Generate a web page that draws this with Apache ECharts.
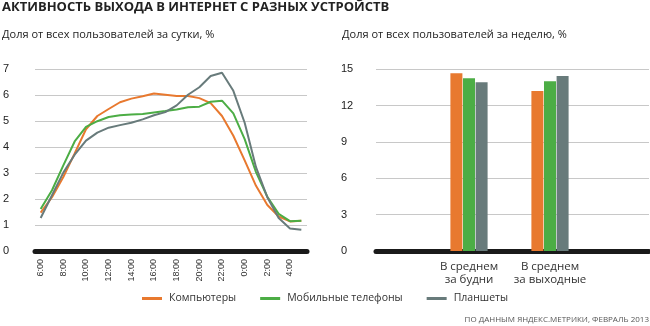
<!DOCTYPE html>
<html><head><meta charset="utf-8">
<script src="https://cdn.jsdelivr.net/npm/echarts@6/dist/echarts.min.js"></script>
<style>html,body{margin:0;padding:0;background:#fff}#c{width:650px;height:326px}</style>
</head><body><div id="c"></div>
<script>
const hours = ['6:00','7:00','8:00','9:00','10:00','11:00','12:00','13:00','14:00','15:00','16:00','17:00','18:00','19:00','20:00','21:00','22:00','23:00','0:00','1:00','2:00','3:00','4:00','5:00'];
const computers = [1.48,2.07,2.85,3.76,4.69,5.2,5.47,5.73,5.87,5.96,6.07,6.02,5.97,5.97,5.89,5.70,5.20,4.44,3.49,2.51,1.77,1.33,1.14,1.17];
const mobile    = [1.62,2.34,3.30,4.22,4.78,5.0,5.16,5.23,5.26,5.28,5.34,5.39,5.45,5.54,5.56,5.75,5.79,5.30,4.31,3.04,2.09,1.43,1.15,1.17];
const tablets   = [1.27,2.15,3.02,3.71,4.25,4.56,4.75,4.85,4.94,5.07,5.23,5.35,5.61,6.02,6.31,6.74,6.87,6.17,4.94,3.23,2.07,1.27,0.87,0.82];
const weekCategories = ['В среднем\nза будни','В среднем\nза выходные'];
const weekComputers = [14.67,13.21];
const weekMobile    = [14.26,14.01];
const weekTablets   = [13.93,14.45];
const seriesNames = ['Компьютеры','Мобильные телефоны','Планшеты'];
const dayMax = 7, dayStep = 1;
const weekMax = 15, weekStep = 3;

const colors = ['#e8792f','#4cad45','#687b7b'];
const numFont = 'Liberation Sans';
const txtFont = 'Open Sans';
const gTop = 69.3, gH = 181.7;

const chart = echarts.init(document.getElementById('c'), null, {renderer:'canvas'});
chart.setOption({
  animation:false,
  color: colors,
  title:[
    {text:'АКТИВНОСТЬ ВЫХОДА В ИНТЕРНЕТ С РАЗНЫХ УСТРОЙСТВ', left:2, top:1, padding:0, textStyle:{fontFamily:txtFont,fontSize:13,fontWeight:'bold',color:'#222'}},
    {text:'Доля от всех пользователей за сутки, %', left:2, top:29, padding:0, textStyle:{fontFamily:txtFont,fontSize:11,fontWeight:'normal',color:'#222'}},
    {text:'Доля от всех пользователей за неделю, %', left:342, top:29, padding:0, textStyle:{fontFamily:txtFont,fontSize:11,fontWeight:'normal',color:'#222'}},
    {text:'ПО ДАННЫМ ЯНДЕКС.МЕТРИКИ, ФЕВРАЛЬ 2013', right:1, top:316, padding:0, textStyle:{fontFamily:txtFont,fontSize:8,fontWeight:'normal',color:'#555'}}
  ],
  legend:{
    left:142, top:293, padding:0, itemWidth:20, itemHeight:3, itemGap:24, icon:'rect',
    data:seriesNames,
    textStyle:{fontFamily:txtFont,fontSize:10.5,color:'#333',padding:[0,0,0,2]}
  },
  grid:[
    {left:34, width:273, top:gTop, height:gH},
    {left:376, width:273, top:gTop, height:gH},
    {left:428.5, width:162, top:gTop, height:gH}
  ],
  xAxis:[
    {type:'category', gridIndex:0, data:hours, boundaryGap:true,
     axisLine:{lineStyle:{color:'#1a1a1a',width:5}}, axisTick:{show:false},
     axisLabel:{rotate:90, interval:1, fontFamily:numFont, fontSize:9, margin:8, color:'#333'}},
    {type:'value', gridIndex:1, min:0, max:1, splitLine:{show:false},
     axisLine:{show:true,onZero:false,lineStyle:{color:'#1a1a1a',width:5}}, axisTick:{show:false}, axisLabel:{show:false}},
    {type:'category', gridIndex:2, data:weekCategories,
     axisLine:{show:false}, axisTick:{show:false},
     axisLabel:{interval:0, fontFamily:txtFont, fontSize:11.5, lineHeight:13, margin:9, color:'#333'}}
  ],
  yAxis:[
    {type:'value', gridIndex:0, min:0, max:dayMax, interval:dayStep,
     axisLine:{show:false}, axisTick:{show:false},
     splitLine:{lineStyle:{color:'#c8c8c8',width:1}},
     axisLabel:{align:'left', margin:32, fontFamily:numFont, fontSize:11, color:'#222', padding:[0,0,5,0]}},
    {type:'value', gridIndex:1, min:0, max:weekMax, interval:weekStep,
     axisLine:{show:false}, axisTick:{show:false},
     splitLine:{lineStyle:{color:'#c8c8c8',width:1}},
     axisLabel:{align:'left', margin:35, fontFamily:numFont, fontSize:11, color:'#222'}},
    {type:'value', gridIndex:2, min:0, max:weekMax, show:false}
  ],
  series:[
    {name:seriesNames[0], type:'line', xAxisIndex:0, yAxisIndex:0, data:computers, symbol:'none', lineStyle:{width:2}},
    {name:seriesNames[1], type:'line', xAxisIndex:0, yAxisIndex:0, data:mobile, symbol:'none', lineStyle:{width:2}},
    {name:seriesNames[2], type:'line', xAxisIndex:0, yAxisIndex:0, data:tablets, symbol:'none', lineStyle:{width:2}},
    {name:seriesNames[0], type:'bar', xAxisIndex:2, yAxisIndex:2, data:weekComputers, barWidth:12, barGap:'5%'},
    {name:seriesNames[1], type:'bar', xAxisIndex:2, yAxisIndex:2, data:weekMobile, barWidth:12, barGap:'5%'},
    {name:seriesNames[2], type:'bar', xAxisIndex:2, yAxisIndex:2, data:weekTablets, barWidth:12, barGap:'5%'}
  ]
});
</script></body></html>
